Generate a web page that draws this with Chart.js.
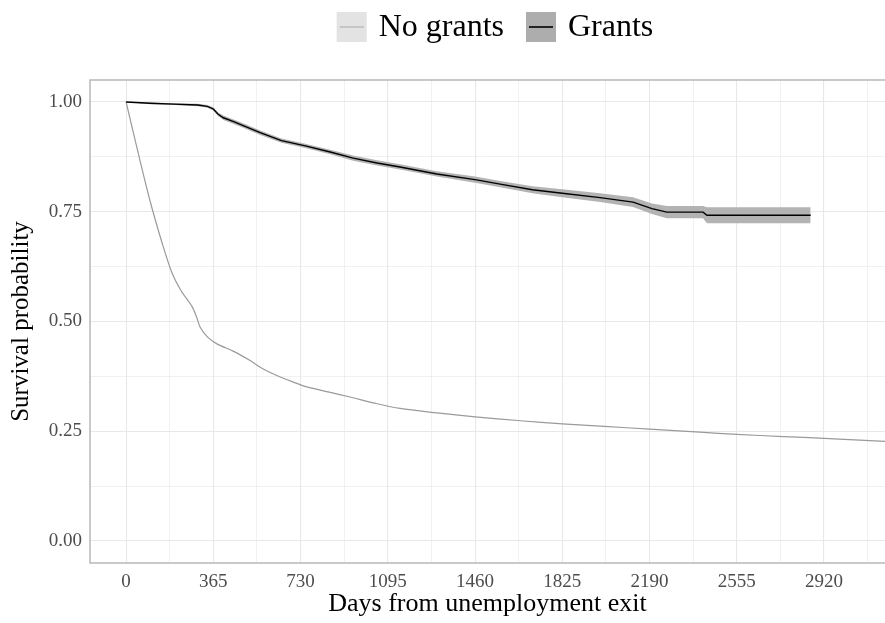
<!DOCTYPE html>
<html>
<head>
<meta charset="utf-8">
<script src="https://cdn.jsdelivr.net/npm/chart.js@4"></script>
<style>
  html, body { margin: 0; padding: 0; background: #ffffff; }
  #wrap { width: 885px; height: 623px; position: relative; }
</style>
</head>
<body>
<div id="wrap"><canvas id="km"></canvas></div>
<script>
(function () {

// ------------------------------------------------------------------------------------
// data
var noGrantsDays = [0, 50, 100, 150, 191, 230, 275, 295, 310, 340, 380, 450, 519, 570, 630, 700, 756, 850, 937, 1040, 1146, 1300, 1460, 1650, 1825, 2000, 2190, 2400, 2555, 2750, 2920, 3175];
var noGrantsSurv = [1.0, 0.885, 0.775, 0.68, 0.612, 0.57, 0.535, 0.51, 0.487, 0.465, 0.449, 0.432, 0.411, 0.393, 0.377, 0.362, 0.351, 0.339, 0.328, 0.314, 0.302, 0.292, 0.283, 0.274, 0.267, 0.261, 0.255, 0.248, 0.243, 0.238, 0.234, 0.227];

var grantsDays  = [0, 100, 200, 300, 340, 365, 385, 407, 450, 500, 561, 650, 750, 854, 950, 1050, 1146, 1300, 1460, 1565, 1700, 1825, 1983, 2121, 2200, 2262, 2414, 2430, 2864];
var grantsSurv  = [1.0, 0.997, 0.995, 0.993, 0.99, 0.984, 0.972, 0.964, 0.955, 0.944, 0.93, 0.912, 0.9, 0.886, 0.872, 0.861, 0.852, 0.836, 0.823, 0.813, 0.80, 0.792, 0.782, 0.772, 0.757, 0.749, 0.749, 0.742, 0.742];
var grantsLower = [1.0, 0.995, 0.993, 0.990, 0.987, 0.980, 0.968, 0.959, 0.950, 0.939, 0.925, 0.907, 0.895, 0.881, 0.866, 0.855, 0.846, 0.830, 0.816, 0.806, 0.792, 0.783, 0.772, 0.761, 0.745, 0.735, 0.735, 0.724, 0.724];
var grantsUpper = [1.0, 0.999, 0.997, 0.996, 0.993, 0.988, 0.976, 0.969, 0.960, 0.949, 0.935, 0.917, 0.905, 0.891, 0.878, 0.867, 0.858, 0.842, 0.830, 0.820, 0.808, 0.801, 0.792, 0.783, 0.769, 0.763, 0.763, 0.760, 0.760];

var xTicks = [0, 365, 730, 1095, 1460, 1825, 2190, 2555, 2920];
var yTicks = [0, 0.25, 0.5, 0.75, 1.0];

var legendLabels = ["No grants", "Grants"];
// ------------------------------------------------------------------------------------

function pts(xs, ys) {
    return xs.map(function (x, i) { return { x: x, y: ys[i] }; });
}

var serif = "'Liberation Serif', 'DejaVu Serif', serif";

// ggplot style panel border + legend with filled key boxes
var decor = {
    id: 'decor',
    afterDraw: function (chart) {
        var ctx = chart.ctx, a = chart.chartArea;
        ctx.save();
        ctx.strokeStyle = '#b3b3b3';
        ctx.lineWidth = 1.4;
        ctx.strokeRect(a.left, a.top, a.right - a.left + 5, a.bottom - a.top);

        // legend
        ctx.font = '32px ' + serif;
        ctx.textBaseline = 'middle';
        var keys = [
            { fill: '#e3e3e3', line: '#a8a8a8', lw: 1 },
            { fill: '#adadad', line: '#000000', lw: 1.6 }
        ];
        var box = 30, gapKey = 12, gapItem = 22;
        var total = 0;
        legendLabels.forEach(function (t, i) {
            total += box + gapKey + ctx.measureText(t).width + (i ? 0 : gapItem);
        });
        var x = 495 - total / 2, cy = 27;
        legendLabels.forEach(function (t, i) {
            var k = keys[i];
            ctx.fillStyle = k.fill;
            ctx.fillRect(x, cy - box / 2, box, box);
            ctx.strokeStyle = k.line;
            ctx.lineWidth = k.lw;
            ctx.beginPath();
            ctx.moveTo(x + 3, cy);
            ctx.lineTo(x + box - 3, cy);
            ctx.stroke();
            x += box + gapKey;
            ctx.fillStyle = '#000000';
            ctx.fillText(t, x, cy + 1);
            x += ctx.measureText(t).width + gapItem;
        });
        ctx.restore();
    }
};

function isMajor(v, list) {
    return list.some(function (m) { return Math.abs(m - v) < 1e-6; });
}

var ctx = document.getElementById('km').getContext('2d');
new Chart(ctx, {
    type: 'line',
    data: {
        datasets: [
            {   // upper CI of Grants, filled down to lower CI
                data: pts(grantsDays, grantsUpper),
                borderWidth: 0,
                pointRadius: 0,
                backgroundColor: '#b3b3b3',
                fill: '+1',
                order: 2
            },
            {
                data: pts(grantsDays, grantsLower),
                borderWidth: 0,
                pointRadius: 0,
                fill: false,
                order: 2
            },
            {
                label: 'No grants',
                data: pts(noGrantsDays, noGrantsSurv),
                borderColor: '#9a9a9a',
                borderWidth: 1.2,
                pointRadius: 0,
                tension: 0.3,
                fill: false,
                order: 1
            },
            {
                label: 'Grants',
                data: pts(grantsDays, grantsSurv),
                borderColor: '#000000',
                borderWidth: 1.4,
                pointRadius: 0,
                fill: false,
                order: 0
            }
        ]
    },
    options: {
        responsive: true,
        maintainAspectRatio: false,
        animation: false,
        layout: { padding: { top: 80, left: 0, right: 0, bottom: 0 } },
        plugins: {
            legend: { display: false },
            tooltip: { enabled: false }
        },
        scales: {
            x: {
                type: 'linear',
                min: -151,
                max: 3175,
                afterBuildTicks: function (s) {
                    var t = [];
                    for (var v = 0; v <= 3175; v += 182.5) t.push({ value: v });
                    s.ticks = t;
                },
                afterFit: function (s) { s.height = 60; },
                border: { display: false },
                grid: {
                    drawTicks: false,
                    color: '#e8e8e8',
                    lineWidth: function (c) { return isMajor(c.tick.value, xTicks) ? 1.1 : 0.6; }
                },
                ticks: {
                    padding: 8,
                    color: '#4d4d4d',
                    font: { family: serif, size: 19 },
                    autoSkip: false,
                    maxRotation: 0,
                    callback: function (v) { return isMajor(v, xTicks) ? String(v) : ''; }
                },
                title: {
                    display: true,
                    text: 'Days from unemployment exit',
                    color: '#000000',
                    font: { family: serif, size: 26 },
                    padding: { top: 0, bottom: 3 }
                }
            },
            y: {
                min: -0.05,
                max: 1.05,
                afterBuildTicks: function (s) {
                    var t = [];
                    for (var v = 0; v <= 1.0001; v += 0.125) t.push({ value: v });
                    s.ticks = t;
                },
                afterFit: function (s) { s.width = 90; },
                border: { display: false },
                grid: {
                    drawTicks: false,
                    color: '#e8e8e8',
                    lineWidth: function (c) { return isMajor(c.tick.value, yTicks) ? 1.1 : 0.6; }
                },
                ticks: {
                    padding: 8,
                    color: '#4d4d4d',
                    font: { family: serif, size: 19 },
                    autoSkip: false,
                    callback: function (v) { return isMajor(v, yTicks) ? v.toFixed(2) : ''; }
                },
                title: {
                    display: true,
                    text: 'Survival probability',
                    color: '#000000',
                    font: { family: serif, size: 25 },
                    padding: { top: 6, bottom: 6 }
                }
            }
        }
    },
    plugins: [decor]
});

})();
</script>
</body>
</html>
